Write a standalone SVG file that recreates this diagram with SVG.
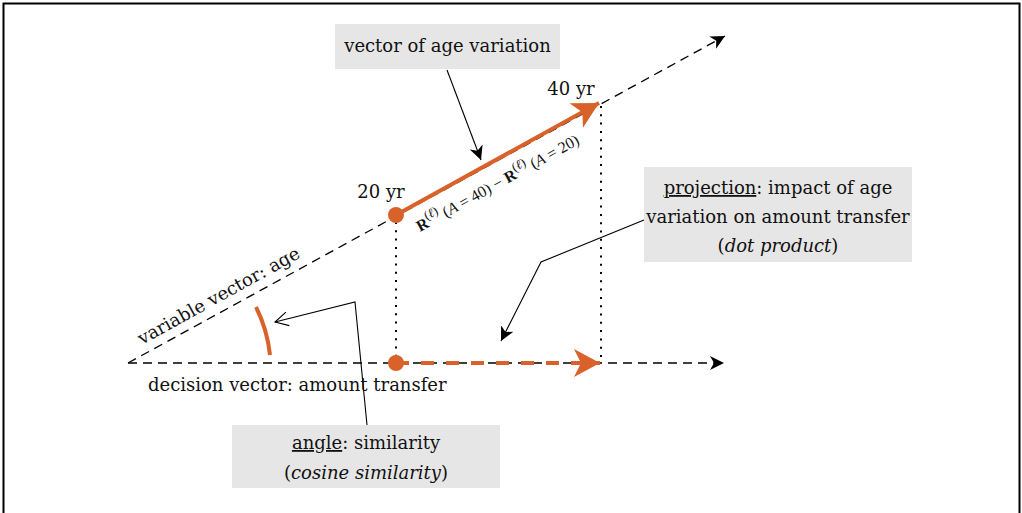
<svg xmlns="http://www.w3.org/2000/svg" width="1022" height="513" viewBox="0 0 1022 513">
  <style>
    text { font-family: "DejaVu Serif", "Liberation Serif", serif; fill: #111; }
    .lbl { font-size: 18px; }
    .box { fill: #e6e6e6; }
    .axis { fill: none; stroke: #000; stroke-width: 1.3; stroke-dasharray: 9 6; }
    .dot { fill: none; stroke: #000; stroke-width: 2; stroke-dasharray: 2 6.3; }
    .call { fill: none; stroke: #000; stroke-width: 1.1; }
    .math { font-family: "Liberation Serif", serif; font-size: 16px; }
  </style>
  <defs>
    <marker id="blk" markerUnits="userSpaceOnUse" markerWidth="16" markerHeight="14" refX="14" refY="7" orient="auto">
      <path d="M0,0 L14,7 L0,14 L4,7 z" fill="#000"/>
    </marker>
    <marker id="open" markerUnits="userSpaceOnUse" markerWidth="16" markerHeight="16" refX="14" refY="8" orient="auto">
      <path d="M1,1 L14,8 L1,15" fill="none" stroke="#000" stroke-width="1.1"/>
    </marker>
    <marker id="org" markerUnits="userSpaceOnUse" markerWidth="28" markerHeight="30" refX="26" refY="15" orient="auto">
      <path d="M0,1 L26,15 L0,29 L7,15 z" fill="#d9622b"/>
    </marker>
  </defs>

  <!-- frame -->
  <path d="M3.5,513 V3.5 H1019.5 V513" fill="none" stroke="#000" stroke-width="2"/>

  <g id="connectors">
    <!-- axes -->
    <path class="axis" d="M128,363 H724" marker-end="url(#blk)"/>
    <path class="axis" d="M128,363 L725,36" marker-end="url(#blk)"/>
    <!-- projection guides -->
    <path class="dot" d="M396,222 V360"/>
    <path class="dot" d="M601,106 V360"/>
    <!-- age variation vector -->
    <path d="M396,215 L599,103" stroke="#d9622b" stroke-width="4" fill="none" marker-end="url(#org)"/>
    <!-- projected vector -->
    <path d="M396,363 H600" stroke="#d9622b" stroke-width="4" stroke-dasharray="13 12" fill="none" marker-end="url(#org)"/>
    <!-- angle arc -->
    <path d="M256,307 A141,141 0 0 1 270,355" fill="none" stroke="#d9622b" stroke-width="4"/>
    <!-- callouts -->
    <path class="call" d="M447,70 L481,160" marker-end="url(#blk)"/>
    <path class="call" d="M644,220 L541,262 L501,341" marker-end="url(#blk)"/>
    <path class="call" d="M367,425 L355,302 L275,322" marker-end="url(#open)"/>
  </g>

  <g id="points">
    <circle cx="396" cy="215" r="8" fill="#d9622b"/>
    <circle cx="396" cy="363" r="8" fill="#d9622b"/>
  </g>

  <g id="labels">
    <text class="lbl" x="381" y="198" text-anchor="middle">20 yr</text>
    <text class="lbl" x="571" y="95" text-anchor="middle">40 yr</text>
    <text class="lbl" x="148" y="391">decision vector: amount transfer</text>
    <text class="lbl" transform="translate(142,345) rotate(-28.9)">variable vector: age</text>
    <text class="math" transform="translate(420,232) rotate(-28.9)"><tspan font-weight="bold">R</tspan><tspan font-size="13" dy="-7">(<tspan font-style="italic">ℓ</tspan>)</tspan><tspan dy="7"> (<tspan font-style="italic">A</tspan> = 40) − </tspan><tspan font-weight="bold">R</tspan><tspan font-size="13" dy="-7">(<tspan font-style="italic">ℓ</tspan>)</tspan><tspan dy="7"> (<tspan font-style="italic">A</tspan> = 20)</tspan></text>
  </g>

  <g id="node-age-variation">
    <rect class="box" x="335" y="24" width="225" height="45"/>
    <text class="lbl" x="447.5" y="52" text-anchor="middle">vector of age variation</text>
  </g>

  <g id="node-projection">
    <rect class="box" x="644" y="167" width="268" height="95"/>
    <text class="lbl" x="778" y="194" text-anchor="middle"><tspan text-decoration="underline">projection</tspan>: impact of age</text>
    <text class="lbl" x="778" y="223" text-anchor="middle">variation on amount transfer</text>
    <text class="lbl" x="778" y="252" text-anchor="middle">(<tspan font-style="italic">dot product</tspan>)</text>
  </g>

  <g id="node-angle">
    <rect class="box" x="232" y="425" width="268" height="63"/>
    <text class="lbl" x="366" y="449" text-anchor="middle"><tspan text-decoration="underline">angle</tspan>: similarity</text>
    <text class="lbl" x="366" y="479" text-anchor="middle">(<tspan font-style="italic">cosine similarity</tspan>)</text>
  </g>
</svg>
